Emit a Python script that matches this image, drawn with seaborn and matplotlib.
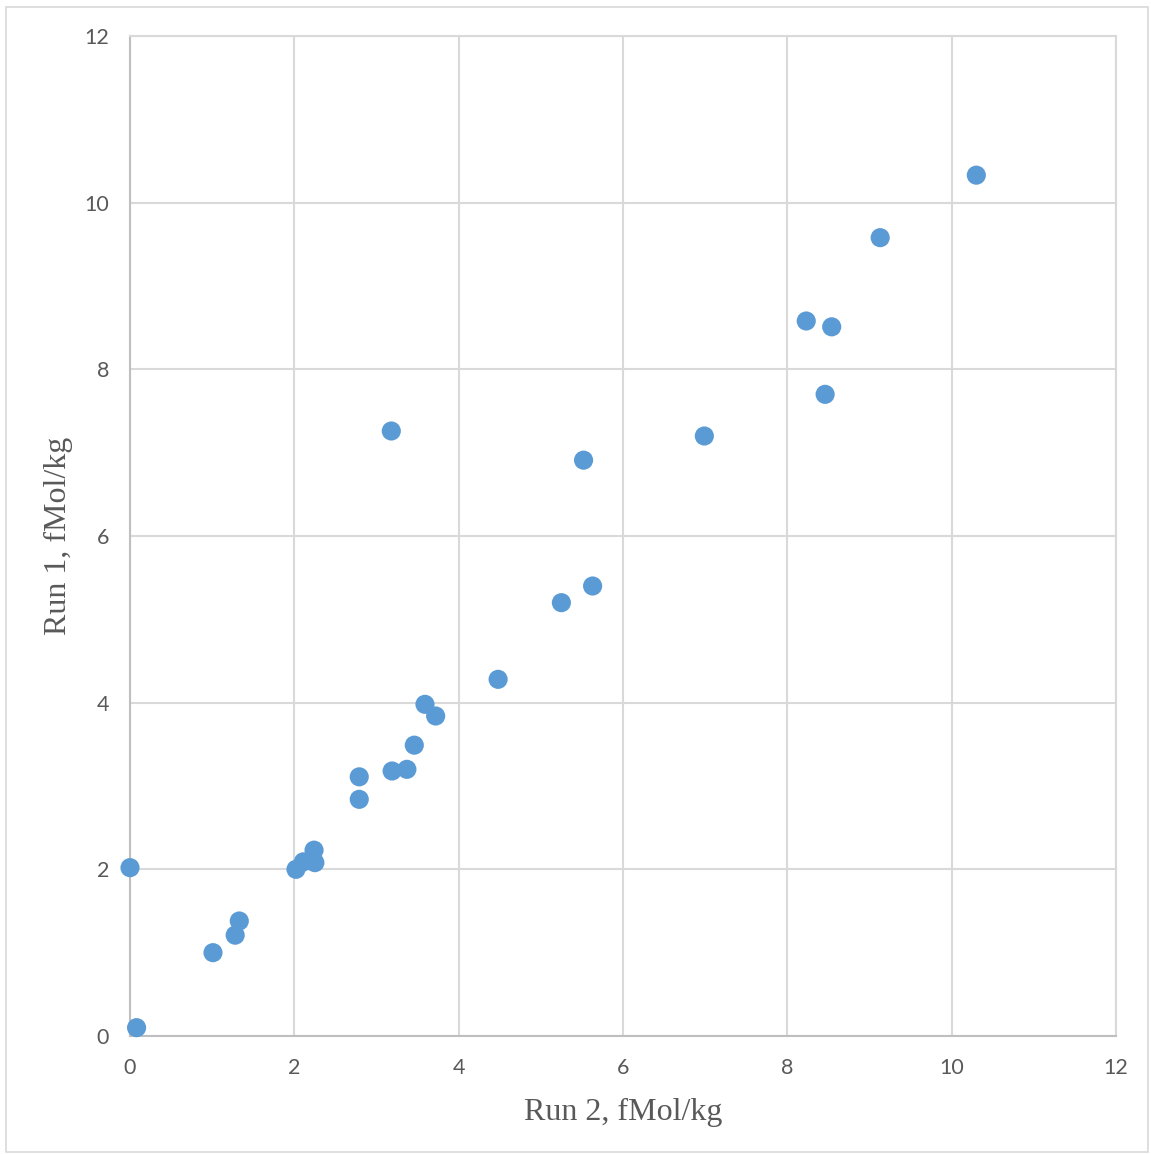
import matplotlib
matplotlib.use("Agg")
import matplotlib.pyplot as plt
import seaborn as sns
import pandas as pd
from matplotlib.patches import Rectangle

# Paired measurements (fMol/kg)
run2 = [0.00, 0.08, 1.01, 1.28, 1.33, 2.02, 2.11, 2.24, 2.25, 2.79, 2.79,
        3.19, 3.37, 3.46, 3.59, 3.72, 3.18, 4.48, 5.25, 5.63, 5.52, 6.99,
        8.23, 8.54, 8.46, 9.13, 10.30]
run1 = [2.02, 0.10, 1.00, 1.21, 1.38, 2.00, 2.09, 2.23, 2.08, 3.11, 2.84,
        3.18, 3.20, 3.49, 3.98, 3.84, 7.26, 4.28, 5.20, 5.40, 6.91, 7.20,
        8.58, 8.51, 7.70, 9.58, 10.33]
ticks = [0, 2, 4, 6, 8, 10, 12]

df = pd.DataFrame({"run2": run2, "run1": run1})

sns.set_theme(style="white")
fig = plt.figure(figsize=(11.51, 11.54), dpi=100)
ax = fig.add_axes([130 / 1151, 1 - 1036 / 1154, 986 / 1151, 1000 / 1154])

sns.scatterplot(data=df, x="run2", y="run1", ax=ax, s=190, color="#5B9BD5",
                edgecolor="none", zorder=3, clip_on=False)

ax.set_xlim(0, 12)
ax.set_ylim(0, 12)
ax.set_xticks(ticks)
ax.set_yticks(ticks)
ax.grid(True, color="#D9D9D9", linewidth=1.5)
ax.set_axisbelow(True)
for side, sp in ax.spines.items():
    sp.set_color("#D9D9D9" if side in ("top", "right") else "#BFBFBF")
    sp.set_linewidth(1.5)
ax.tick_params(axis="both", length=0, labelsize=15.5, labelcolor="#595959")
ax.tick_params(axis="x", pad=16)
ax.tick_params(axis="y", pad=15)
for lbl in ax.get_xticklabels() + ax.get_yticklabels():
    lbl.set_fontfamily("Lato")

ax.set_xlabel("Run 2, fMol/kg", fontsize=23, color="#595959",
              fontfamily="Liberation Serif", labelpad=14)
ax.set_ylabel("Run 1, fMol/kg", fontsize=23, color="#595959",
              fontfamily="Liberation Serif", labelpad=8)

# thin outer chart frame
fig.patches.append(Rectangle((6 / 1151, 2 / 1154), 1142 / 1151, 1145 / 1154,
                             transform=fig.transFigure, fill=False,
                             edgecolor="#D9D9D9", linewidth=1.2))

fig.savefig("out.png", dpi=100)
